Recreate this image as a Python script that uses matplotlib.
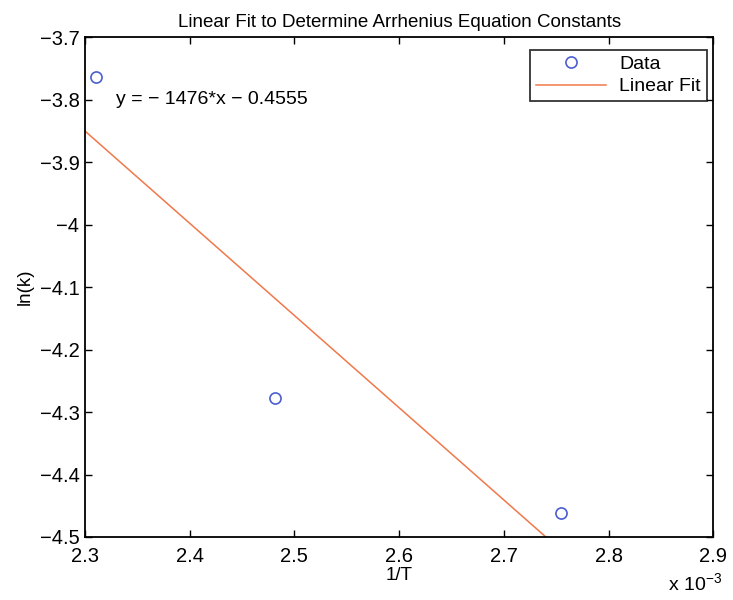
import numpy as np
import matplotlib
matplotlib.use("Agg")
import matplotlib.pyplot as plt

plt.rcParams['font.family'] = ['Liberation Sans', 'DejaVu Sans']
plt.rcParams['axes.unicode_minus'] = True

inv_T = [2.3105e-3, 2.4815e-3, 2.7545e-3]
ln_k = [-3.764, -4.278, -4.462]
slope = -1476.0
intercept = -0.4555
x_ticks = [2.3, 2.4, 2.5, 2.6, 2.7, 2.8, 2.9]
y_ticks = [-3.7, -3.8, -3.9, -4.0, -4.1, -4.2, -4.3, -4.4, -4.5]

fig = plt.figure(figsize=(7.33, 6.0), dpi=100)
ax = fig.add_axes([0.116, 0.105, 0.857, 0.833])

xs = np.array([2.3e-3, 2.9e-3])
ax.plot(np.array(inv_T) * 1e3, ln_k, 'o', mfc='none', mec='#4a5fd0',
        ms=8, mew=1.2, label='Data')
ax.plot(xs * 1e3, slope * xs + intercept, '-', color='#f0784a', lw=1.1,
        label='Linear Fit')

ax.set_xlim(2.3, 2.9)
ax.set_ylim(-4.5, -3.7)
ax.set_xticks(x_ticks)
ax.set_xticklabels([f"{v:g}" for v in x_ticks])
ax.set_yticks(y_ticks)
ax.set_yticklabels([f"{v:g}".replace('-', '\u2212') for v in y_ticks])
ax.tick_params(direction='in', length=5, labelsize=14.5, top=True, right=True,
               width=1.0)
ax.tick_params(axis='x', pad=7)
ax.tick_params(axis='y', pad=4)
for s in ax.spines.values():
    s.set_linewidth(1.3)

ax.set_xlabel('1/T', fontsize=13.5, labelpad=1)
ax.set_ylabel('ln(k)', fontsize=13.5, labelpad=4)
ax.set_title('Linear Fit to Determine Arrhenius Equation Constants',
             fontsize=13.5, pad=7)
fig.text(0.948, 0.008, r'x 10$^{\mathregular{-3}}$', fontsize=14,
         ha='center', va='bottom')

ax.text(2.33, -3.8, 'y = \u2212 1476*x \u2212 0.4555', fontsize=14,
        ha='left', va='center')

leg = ax.legend(loc='upper right', fontsize=14, frameon=True, fancybox=False,
                edgecolor='black', borderpad=0.3, handlelength=3.6,
                handletextpad=0.7, borderaxespad=0.3, labelspacing=0.25,
                markerfirst=True, bbox_to_anchor=(0.999, 0.987))
leg.get_frame().set_linewidth(1.3)

fig.savefig('out.png', dpi=100)
